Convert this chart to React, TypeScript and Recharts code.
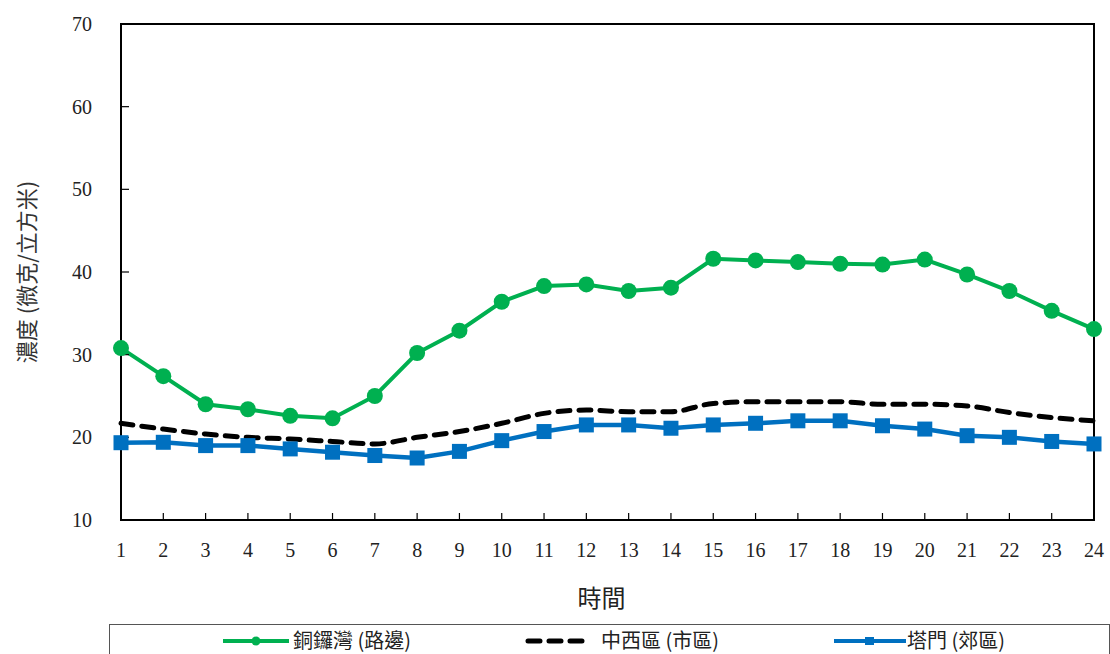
import React from 'react';
import {
  LineChart, Line, XAxis, YAxis, Legend, ReferenceArea,
} from 'recharts';

const hours = [1, 2, 3, 4, 5, 6, 7, 8, 9, 10, 11, 12, 13, 14, 15, 16, 17, 18, 19, 20, 21, 22, 23, 24];
const causewayBay = [30.8, 27.4, 24.0, 23.4, 22.6, 22.3, 25.0, 30.2, 32.9, 36.4, 38.3, 38.5, 37.7, 38.1, 41.6, 41.4, 41.2, 41.0, 40.9, 41.5, 39.7, 37.7, 35.3, 33.1];
const centralWestern = [21.7, 21.0, 20.4, 20.0, 19.8, 19.5, 19.2, 20.0, 20.7, 21.7, 22.9, 23.3, 23.1, 23.1, 24.1, 24.3, 24.3, 24.3, 24.0, 24.0, 23.8, 23.0, 22.4, 22.0];
const tapMun = [19.35, 19.4, 19.0, 19.0, 18.6, 18.2, 17.8, 17.5, 18.3, 19.6, 20.7, 21.5, 21.5, 21.1, 21.5, 21.7, 22.0, 22.0, 21.4, 21.0, 20.2, 20.0, 19.5, 19.2];
const yTicks = [10, 20, 30, 40, 50, 60, 70];

const seriesNames = ['銅鑼灣 (路邊)', '中西區 (市區)', '塔門 (郊區)'];

const GREEN = '#00B050';
const BLUE = '#0070C0';
const SERIF = 'Liberation Serif, DejaVu Serif, serif';
const CJK = '"Noto Sans CJK TC", "Noto Sans", sans-serif';

const data = hours.map((h, i) => ({
  hour: h,
  cwb: causewayBay[i],
  cw: centralWestern[i],
  tm: tapMun[i],
}));

const tickStyle = { fontSize: 20, fill: '#222', fontFamily: SERIF, style: { fontFamily: SERIF } };

const SquareDot = (props: any) => {
  const { cx, cy, index } = props;
  if (cx == null || cy == null) return null;
  return <rect key={`sq-${index}`} x={cx - 7.5} y={cy - 7.5} width={15} height={15} fill={BLUE} />;
};

const YTitle = ({ viewBox }: any) => {
  const cx = viewBox.x + 25;
  const cy = viewBox.y + viewBox.height / 2;
  return (
    <text x={cx} y={cy} transform={`rotate(-90, ${cx}, ${cy})`} textAnchor="middle"
      dominantBaseline="central" style={{ fontFamily: CJK, fontSize: 22, fill: '#333' }}>
      濃度 (微克/立方米)
    </text>
  );
};

const XTitle = ({ viewBox }: any) => {
  const cx = viewBox.x + viewBox.width / 2 - 6;
  const cy = viewBox.y + 76;
  return (
    <text x={cx} y={cy} textAnchor="middle" dominantBaseline="central"
      style={{ fontFamily: CJK, fontSize: 24, fill: '#222' }}>
      時間
    </text>
  );
};

// legend drawn as one bordered box across the bottom, like the Excel original
const LegendBox = () => {
  const item = (left: number, icon: React.ReactNode, label: string, textLeft: number) => (
    <>
      <div style={{ position: 'absolute', left, top: 6 }}>{icon}</div>
      <div style={{ position: 'absolute', left: textLeft, top: 2, fontFamily: CJK, fontSize: 20, color: '#222', whiteSpace: 'nowrap', lineHeight: '26px' }}>
        {label}
      </div>
    </>
  );
  return (
    <div style={{ position: 'relative', width: 1001, height: 34, border: '1.5px solid #555', boxSizing: 'border-box', background: '#fff' }}>
      {item(112, (
        <svg width={68} height={20}>
          <line x1={1} y1={10} x2={67} y2={10} stroke={GREEN} strokeWidth={4} />
          <circle cx={34} cy={10} r={4.5} fill={GREEN} />
        </svg>
      ), seriesNames[0], 183)}
      {item(414, (
        <svg width={64} height={20}>
          <line x1={4} y1={10} x2={60} y2={10} stroke="#000" strokeWidth={5} strokeDasharray="12 9" strokeLinecap="round" />
        </svg>
      ), seriesNames[1], 491)}
      {item(723, (
        <svg width={74} height={20}>
          <line x1={1} y1={10} x2={73} y2={10} stroke={BLUE} strokeWidth={4} />
          <rect x={32} y={6} width={9} height={8} fill={BLUE} />
        </svg>
      ), seriesNames[2], 797)}
    </div>
  );
};

export default function App() {
  return (
    <div style={{ position: 'absolute', left: 0, top: 0, width: 1110, height: 654, background: '#fff', overflow: 'hidden' }}>
      <LineChart width={1110} height={654} data={data} margin={{ top: 24, right: 16, left: 0, bottom: 0 }}>
        <XAxis
          dataKey="hour"
          type="number"
          domain={[1, 24]}
          ticks={hours}
          interval={0}
          height={134}
          tickSize={-7}
          tickMargin={30}
          axisLine={{ stroke: '#000', strokeWidth: 2 }}
          tickLine={{ stroke: '#000', strokeWidth: 1.2 }}
          tick={tickStyle}
          label={<XTitle />}
        />
        <YAxis
          type="number"
          domain={[10, 70]}
          ticks={yTicks}
          interval={0}
          width={121}
          tickSize={-8}
          tickMargin={37}
          axisLine={{ stroke: '#000', strokeWidth: 2 }}
          tickLine={{ stroke: '#000', strokeWidth: 1.2 }}
          tick={tickStyle}
          label={<YTitle />}
        />
        <ReferenceArea x1={1} x2={24} y1={10} y2={70} fill="none" stroke="#000" strokeWidth={2} />
        <Legend
          layout="horizontal"
          verticalAlign="middle"
          align="center"
          wrapperStyle={{ top: 624, left: 109, width: 1001, height: 34 }}
          content={<LegendBox />}
        />
        <Line type="monotone" dataKey="cw" name={seriesNames[1]} stroke="#000" strokeWidth={5}
          strokeDasharray="12 9" strokeLinecap="round" dot={false} isAnimationActive={false} />
        <Line type="linear" dataKey="tm" name={seriesNames[2]} stroke={BLUE} strokeWidth={4.5}
          dot={<SquareDot />} isAnimationActive={false} />
        <Line type="linear" dataKey="cwb" name={seriesNames[0]} stroke={GREEN} strokeWidth={4}
          dot={{ r: 8, fill: GREEN, stroke: 'none' }} isAnimationActive={false} />
      </LineChart>
    </div>
  );
}
